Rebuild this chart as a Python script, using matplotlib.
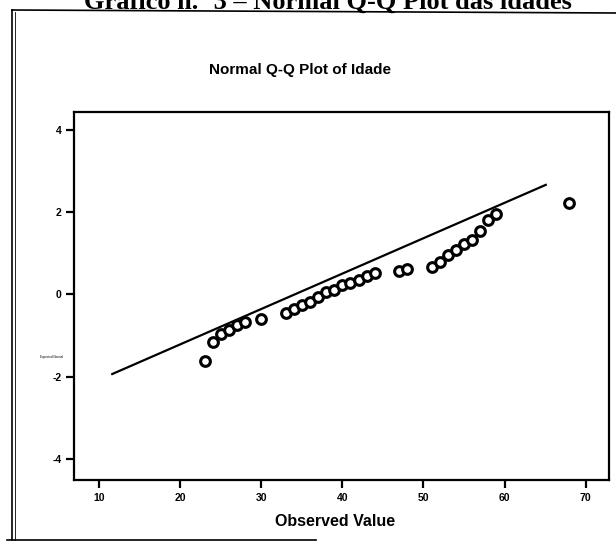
import numpy as np
from matplotlib import pyplot as plt
from matplotlib.lines import Line2D

# observed ages and their expected normal values
idade = [23, 24, 25, 26, 27, 28, 30, 33, 34, 35, 36, 37, 38, 39, 40, 41, 42, 43, 44,
         47, 48, 51, 52, 53, 54, 55, 56, 57, 58, 59, 68]
esperado = [-1.62, -1.15, -0.97, -0.87, -0.75, -0.67, -0.59, -0.45, -0.36, -0.26,
            -0.17, -0.07, 0.06, 0.12, 0.23, 0.27, 0.36, 0.44, 0.52, 0.57, 0.61,
            0.66, 0.78, 0.95, 1.08, 1.23, 1.33, 1.53, 1.80, 1.96, 2.21]
# reference line end points
linha_x = [11.5, 65.2]
linha_y = [-1.94, 2.67]

x_ticks = [10, 20, 30, 40, 50, 60, 70]
y_ticks = [-4, -2, 0, 2, 4]

plt.rcParams['font.family'] = ['Liberation Sans', 'DejaVu Sans']
plt.rcParams['axes.unicode_minus'] = False

fig = plt.figure(figsize=(6.16, 5.43), dpi=100)
ax = fig.add_axes([0.120, 0.116, 0.869, 0.678])

ax.plot(linha_x, linha_y, color='black', lw=1.6, solid_capstyle='butt')
ax.plot(idade, esperado, 'o', mfc='white', mec='black', ms=7, mew=2.2)

ax.set_xlim(6.9, 72.9)
ax.set_ylim(-4.5, 4.43)
ax.set_xticks(x_ticks)
ax.set_yticks(y_ticks)
ax.tick_params(direction='out', length=6, width=1.6, labelsize=7.5, pad=3)
for lab in ax.get_xticklabels() + ax.get_yticklabels():
    lab.set_fontweight('bold')
for s in ax.spines.values():
    s.set_linewidth(1.6)

ax.set_xlabel('Observed Value', fontsize=11.5, fontweight='bold')
ax.xaxis.set_label_coords(0.487, -0.092)

# chart title (left of the axes centre, as in the scan)
fig.text(300 / 616, 1 - 70 / 543, 'Normal Q-Q Plot of Idade', fontsize=11,
         fontweight='bold', ha='center', va='center')

# tiny y label as in the scan
fig.text(0.084, 1 - 357 / 543, 'Expected Normal', fontsize=2.2, ha='center', va='center')

# outer frame from the scanned page
fig.add_artist(Line2D([12 / 616, 12 / 616], [1 - 540 / 543, 1 - 10 / 543], color='black', lw=1.2))
fig.add_artist(Line2D([15 / 616, 15 / 616], [1 - 540 / 543, 1 - 12 / 543], color='black', lw=0.6))
fig.add_artist(Line2D([12 / 616, 1.0], [1 - 10 / 543, 1 - 13 / 543], color='black', lw=1.2))
fig.add_artist(Line2D([7 / 616, 316 / 616], [1 - 540 / 543, 1 - 540 / 543], color='black', lw=1.2))

# heading of the page, cut off at the top as in the scan
fig.text(328 / 616, 1 - 9 / 543, 'Gráfico n.º 3 – Normal Q-Q Plot das idades',
         family=['Liberation Serif', 'DejaVu Serif'], fontsize=19, fontweight='bold',
         ha='center', va='baseline')

fig.savefig('out.png', dpi=100)
